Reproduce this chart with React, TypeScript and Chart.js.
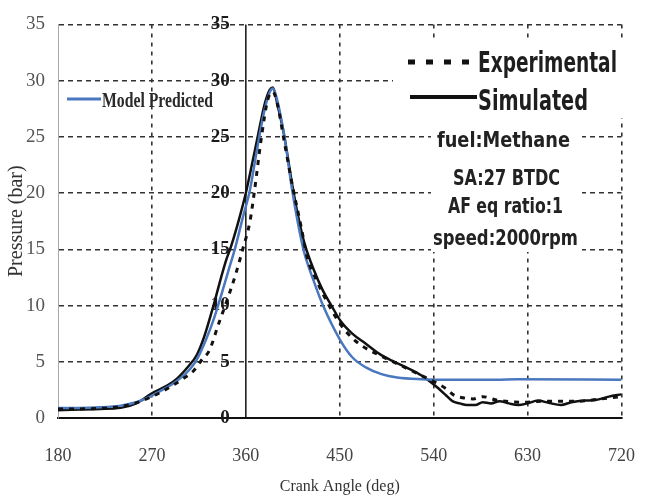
import React, { useEffect, useRef } from "react";
import { Chart, registerables } from "chart.js";

Chart.register(...registerables);

// ---------- data ----------
const xTickValues = [180, 270, 360, 450, 540, 630, 720];
const yTickValues = [0, 5, 10, 15, 20, 25, 30, 35];

const experimentalAngle = [180, 220, 250, 270, 290, 300, 310, 318, 325, 334, 341, 350, 357, 364, 368, 375, 381, 386, 390, 397, 405, 413, 419, 427, 433, 444, 455, 470, 490, 510, 530, 545, 552, 560, 568, 578, 587, 600, 624, 650, 680, 700, 720];
const experimentalPressure = [0.8, 0.85, 1.2, 1.9, 2.9, 3.5, 4.2, 5.2, 6.0, 8.4, 10.2, 12.7, 15.0, 17.5, 20.0, 25.0, 28.3, 29.0, 28.0, 24.5, 20.5, 17.0, 14.2, 12.4, 11.2, 9.3, 7.8, 6.5, 5.5, 4.6, 3.7, 3.0, 2.6, 2.0, 1.8, 1.7, 1.9, 1.6, 1.4, 1.5, 1.5, 1.7, 1.9];

const simulatedAngle = [180, 220, 240, 255, 270, 285, 294, 305, 313, 320, 329, 336, 341, 346, 353, 360, 366, 372, 378, 383, 386, 390, 397, 404, 410, 416, 425, 434, 442, 451, 462, 475, 488, 500, 516, 528, 537, 545, 552, 558, 565, 572, 580, 587, 595, 603, 612, 621, 630, 640, 650, 662, 672, 684, 695, 708, 720];
const simulatedPressure = [0.7, 0.8, 0.9, 1.3, 2.2, 2.9, 3.5, 4.6, 5.6, 7.2, 10.0, 12.4, 14.0, 15.3, 17.5, 20.0, 22.6, 25.3, 27.9, 29.2, 29.4, 28.0, 25.0, 21.0, 18.0, 15.6, 13.2, 11.3, 10.0, 8.6, 7.5, 6.6, 5.7, 5.1, 4.4, 3.8, 3.2, 2.6, 2.0, 1.5, 1.3, 1.15, 1.15, 1.4, 1.3, 1.5, 1.3, 1.15, 1.3, 1.55, 1.35, 1.15, 1.4, 1.55, 1.6, 1.9, 2.1];

const modelAngle = [180, 200, 220, 240, 255, 266, 280, 294, 303, 313, 322, 330, 336, 343, 350, 357, 364, 370, 377, 383, 386, 390, 397, 404, 410, 416, 425, 434, 450, 462, 475, 490, 505, 528, 560, 600, 620, 720];
const modelPressure = [0.9, 0.9, 0.95, 1.1, 1.4, 1.8, 2.5, 3.3, 4.0, 5.2, 7.0, 9.0, 10.8, 13.0, 15.2, 17.8, 20.3, 23.5, 27.0, 29.0, 29.3, 28.3, 25.0, 20.5, 17.3, 14.7, 12.2, 10.0, 7.0, 5.4, 4.5, 3.9, 3.6, 3.45, 3.4, 3.4, 3.45, 3.4];

const seriesLabels = ["Experimental", "Simulated", "Model Predicted"];
const conditionLabels = ["fuel:Methane", "SA:27 BTDC", "AF eq ratio:1", "speed:2000rpm"];
const xTitle = "Crank Angle (deg)";
const yTitle = "Pressure (bar)";

// ---------- helpers ----------
const toPoints = (xs: number[], ys: number[]) => xs.map((x, i) => ({ x, y: ys[i] }));

const SERIF = "'Liberation Serif','Times New Roman',serif";
const NARROW = "'Liberation Sans Narrow','Arial Narrow','DejaVu Sans Condensed','Liberation Sans',sans-serif";
const BLUE = "#4a78bf";

function fitText(ctx: CanvasRenderingContext2D, text: string, x: number, baseline: number, width: number, font: string, color: string) {
  ctx.save();
  ctx.font = font;
  ctx.fillStyle = color;
  ctx.textAlign = "left";
  ctx.textBaseline = "alphabetic";
  const w = ctx.measureText(text).width || 1;
  ctx.translate(x, baseline);
  ctx.scale(width / w, 1);
  ctx.fillText(text, 0, 0);
  ctx.restore();
}

const overlayPlugin = {
  id: "overlay",
  beforeDatasetsDraw(chart: any) {
    const { ctx, chartArea, scales } = chart;
    const xs = scales.x;
    const ys = scales.y;
    ctx.save();
    // white boxes behind legend & conditions
    ctx.fillStyle = "#ffffff";
    ctx.fillRect(393, 40, 238, 78);
    ctx.fillRect(431, 118, 151, 134);
    // solid axis at 360
    const x360 = xs.getPixelForValue(360);
    ctx.strokeStyle = "#111";
    ctx.lineWidth = 1.5;
    ctx.setLineDash([]);
    ctx.beginPath();
    ctx.moveTo(x360, chartArea.top);
    ctx.lineTo(x360, chartArea.bottom);
    ctx.stroke();
    // inner tick labels
    ctx.font = `bold 19px ${SERIF}`;
    ctx.fillStyle = "#1a1a1a";
    ctx.textAlign = "right";
    ctx.textBaseline = "middle";
    yTickValues.forEach((v) => {
      ctx.fillText(String(v), x360 - 16, ys.getPixelForValue(v));
    });
    ctx.restore();
  },
  afterDatasetsDraw(chart: any) {
    const { ctx } = chart;
    const ds = chart.data.datasets;
    ctx.save();
    // Experimental legend
    ctx.strokeStyle = ds[0].borderColor;
    ctx.lineWidth = 5;
    ctx.setLineDash([7, 11]);
    ctx.beginPath();
    ctx.moveTo(408, 62);
    ctx.lineTo(475, 62);
    ctx.stroke();
    fitText(ctx, ds[0].label, 478, 72, 139, `bold 28px ${NARROW}`, "#1e1e1e");
    // Simulated legend
    ctx.strokeStyle = ds[1].borderColor;
    ctx.lineWidth = 4;
    ctx.setLineDash([]);
    ctx.beginPath();
    ctx.moveTo(410, 97);
    ctx.lineTo(477, 97);
    ctx.stroke();
    fitText(ctx, ds[1].label, 478, 110, 110, `bold 29px ${NARROW}`, "#1e1e1e");
    // Model Predicted legend
    ctx.strokeStyle = ds[2].borderColor;
    ctx.lineWidth = 3;
    ctx.beginPath();
    ctx.moveTo(67, 99);
    ctx.lineTo(101, 99);
    ctx.stroke();
    fitText(ctx, ds[2].label, 102, 107, 111, `bold 21px ${SERIF}`, "#2a2a2a");
    // condition texts
    const lines = [
      { x: 437, b: 147, w: 133 },
      { x: 453, b: 185, w: 107 },
      { x: 448, b: 213, w: 115 },
      { x: 433, b: 245, w: 145 },
    ];
    conditionLabels.forEach((t, i) => {
      fitText(ctx, t, lines[i].x, lines[i].b, lines[i].w, `bold 21px ${NARROW}`, "#222");
    });
    ctx.restore();
  },
};

export default function App() {
  const canvasRef = useRef<HTMLCanvasElement | null>(null);

  useEffect(() => {
    const canvas = canvasRef.current;
    if (!canvas) return;
    const chart = new Chart(canvas, {
      type: "line",
      data: {
        datasets: [
          {
            label: seriesLabels[0],
            data: toPoints(experimentalAngle, experimentalPressure),
            borderColor: "#111111",
            borderWidth: 3,
            borderDash: [5, 6],
            pointRadius: 0,
            fill: false,
            cubicInterpolationMode: "monotone",
            order: 0,
          },
          {
            label: seriesLabels[1],
            data: toPoints(simulatedAngle, simulatedPressure),
            borderColor: "#111111",
            borderWidth: 2.5,
            pointRadius: 0,
            fill: false,
            cubicInterpolationMode: "monotone",
            order: 2,
          },
          {
            label: seriesLabels[2],
            data: toPoints(modelAngle, modelPressure),
            borderColor: BLUE,
            borderWidth: 2.5,
            pointRadius: 0,
            fill: false,
            cubicInterpolationMode: "monotone",
            order: 1,
          },
        ],
      },
      options: {
        responsive: false,
        animation: false,
        layout: { padding: { top: 20, right: 27, left: 0, bottom: 0 } },
        plugins: {
          legend: { display: false },
          tooltip: { enabled: false },
        },
        scales: {
          x: {
            type: "linear",
            min: 180,
            max: 720,
            afterBuildTicks: (s: any) => {
              s.ticks = xTickValues.map((v) => ({ value: v }));
            },
            afterFit: (s: any) => {
              s.height = 79;
            },
            ticks: {
              font: { family: SERIF, size: 18 },
              color: "#444",
              padding: 27,
              maxRotation: 0,
              callback: (v: any) => String(v),
            },
            grid: {
              color: (c: any) => (c.tick && (c.tick.value === 180 || c.tick.value === 360) ? "rgba(0,0,0,0)" : "#333333"),
              lineWidth: 1.6,
              drawTicks: false,
            },
            border: { display: true, color: "#111", width: 2, dash: [4, 5] },
            title: {
              display: true,
              text: xTitle,
              font: { family: SERIF, size: 16 },
              color: "#333",
              padding: { top: 0, bottom: 1 },
            },
          },
          y: {
            type: "linear",
            min: 0,
            max: 35,
            afterBuildTicks: (s: any) => {
              s.ticks = yTickValues.map((v) => ({ value: v }));
            },
            afterFit: (s: any) => {
              s.width = 58;
            },
            ticks: {
              font: { family: SERIF, size: 19 },
              color: "#555",
              padding: 13,
              callback: (v: any) => String(v),
            },
            grid: {
              color: (c: any) => (c.tick && c.tick.value === 0 ? "rgba(0,0,0,0)" : "#333333"),
              lineWidth: 1.6,
              drawTicks: false,
            },
            border: { display: true, color: "#aaa", width: 1, dash: [5, 4] },
            title: {
              display: true,
              text: yTitle,
              font: { family: SERIF, size: 20 },
              color: "#333",
              padding: { top: 5, bottom: 0 },
            },
          },
        },
      },
      plugins: [overlayPlugin],
    } as any);
    return () => chart.destroy();
  }, []);

  return (
    <div style={{ position: "fixed", left: 0, top: 0, width: 662, height: 497, background: "#fff" }}>
      <canvas ref={canvasRef} width={662} height={497} style={{ display: "block" }} />
    </div>
  );
}
